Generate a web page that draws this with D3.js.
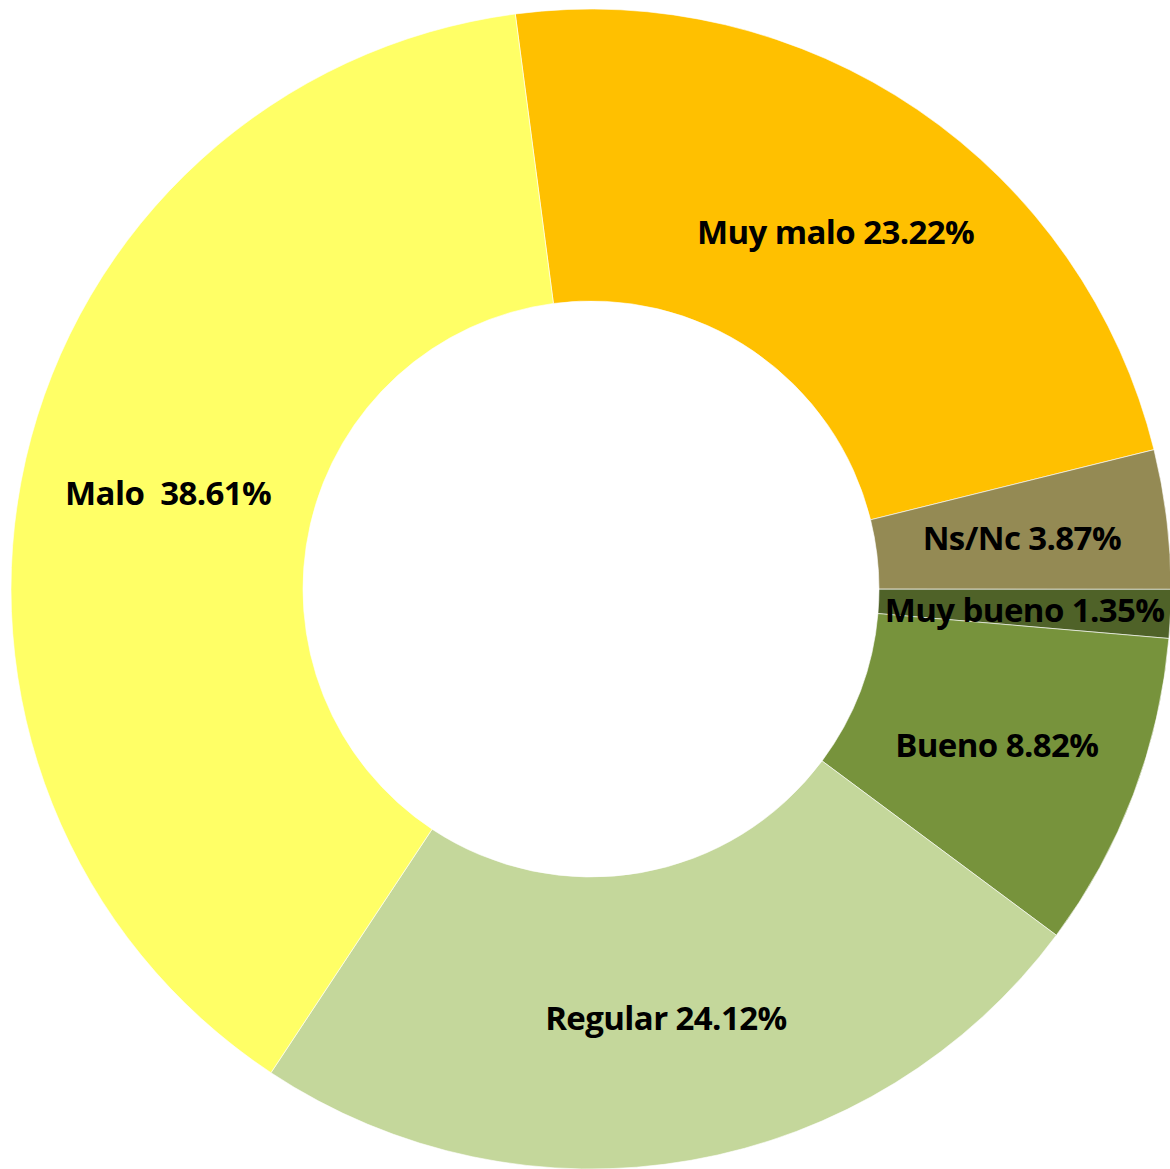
<!DOCTYPE html>
<html>
<head>
<meta charset="utf-8">
<script src="https://cdn.jsdelivr.net/npm/d3@7"></script>
<style>
  html, body { margin: 0; padding: 0; background: #fff; overflow: hidden; }
  svg { display: block; }
</style>
</head>
<body>
<svg id="chart" width="1170" height="1169"></svg>
<script>
const categories = ["Muy malo", "Ns/Nc", "Muy bueno", "Bueno", "Regular", "Malo "];
const values = [23.22, 3.87, 1.35, 8.82, 24.12, 38.61];
const colors = ["#FFC000", "#948A54", "#4F6228", "#77933C", "#C4D79B", "#FFFF66"];

const width = 1170, height = 1169;
const cx = 591, cy = 589;
const outerR = 580, innerR = 288;
const startDeg = -7.5;

const svg = d3.select("#chart");
const g = svg.append("g").attr("transform", `translate(${cx},${cy})`);

const data = categories.map((c, i) => ({ label: c, value: values[i], color: colors[i] }));

const pie = d3.pie()
  .sort(null)
  .value(d => d.value)
  .startAngle(startDeg * Math.PI / 180)
  .endAngle((startDeg + 360) * Math.PI / 180);

const arc = d3.arc().innerRadius(innerR).outerRadius(outerR);

const arcs = pie(data);

g.selectAll("path.slice")
  .data(arcs)
  .join("path")
  .attr("class", "slice")
  .attr("d", arc)
  .attr("fill", d => d.data.color)
  .attr("stroke", "rgba(255,255,255,0.6)")
  .attr("stroke-width", 1);

g.selectAll("text.lbl")
  .data(arcs)
  .join("text")
  .attr("class", "lbl")
  .attr("transform", d => `translate(${arc.centroid(d)})`)
  .attr("text-anchor", "middle")
  .attr("dy", "0.42em")
  .style("white-space", "pre")
  .attr("font-family", "'Open Sans', Lato, sans-serif")
  .attr("font-weight", "bold")
  .attr("font-size", 33)
  .attr("letter-spacing", -0.6)
  .attr("fill", "#000")
  .text(d => `${d.data.label} ${d.data.value.toFixed(2)}%`);
</script>
</body>
</html>
